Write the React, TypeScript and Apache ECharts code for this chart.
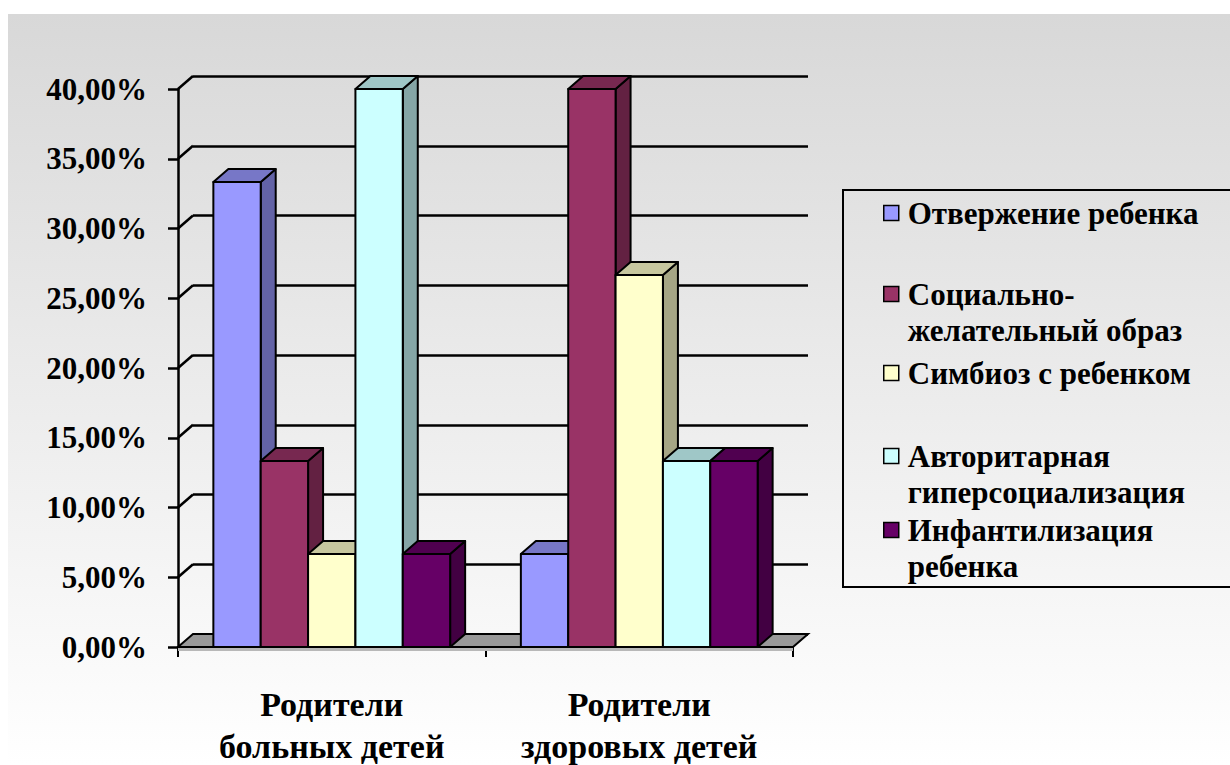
import React, { useEffect, useRef } from "react";
import * as echarts from "echarts";

// Categories on the x axis
const categories = ["Родители\nбольных детей", "Родители\nздоровых детей"];

// Series (legend) names
const seriesNames = [
  "Отвержение ребенка",
  "Социально-\nжелательный образ",
  "Симбиоз с ребенком",
  "Авторитарная\nгиперсоциализация",
  "Инфантилизация\nребенка",
];

// Percentages per category, one array per series
const rejection = [33.33, 6.67];
const socialImage = [13.33, 40.0];
const symbiosis = [6.67, 26.67];
const authoritarian = [40.0, 13.33];
const infantilization = [6.67, 13.33];

const seriesValues = [rejection, socialImage, symbiosis, authoritarian, infantilization];

// Value-axis ticks (percent)
const yTicks = [0, 5, 10, 15, 20, 25, 30, 35, 40];

const frontColors = ["#9999FF", "#993366", "#FFFFCC", "#CCFFFF", "#660066"];

// Vertical centre of each legend marker
const legendMarkerCenters = [213, 294, 373, 456, 530];

const FONT = "Liberation Serif, DejaVu Serif, serif";
const DX = 15; // pseudo-3D depth offset (x)
const DY = 13; // pseudo-3D depth offset (y)
const BAR_FRACTION = 0.154; // bar width as a share of the category band
const LEGEND_LINE = 36;

const FRONT_GRID = { left: 178, top: 89, width: 615, height: 558 };

function shade(hex: string, k: number): string {
  const n = parseInt(hex.slice(1), 16);
  const r = Math.round(((n >> 16) & 255) * k);
  const g = Math.round(((n >> 8) & 255) * k);
  const b = Math.round((n & 255) * k);
  return `rgb(${r},${g},${b})`;
}

function makeBarRenderer(slot: number, color: string) {
  const topColor = shade(color, 0.78);
  const sideColor = shade(color, 0.65);
  return (params: any, api: any) => {
    const cat = api.value(0);
    const val = api.value(1);
    const base = api.coord([cat, 0]);
    const top = api.coord([cat, val]);
    const band = api.size([1, 0])[0];
    const w = band * BAR_FRACTION;
    const x0 = base[0] - (seriesNames.length / 2) * w + slot * w;
    const x1 = x0 + w;
    const yb = base[1];
    const yt = top[1];
    const stroke = { stroke: "#000", lineWidth: 2, lineJoin: "round" };
    return {
      type: "group",
      children: [
        {
          type: "polygon",
          shape: { points: [[x1, yt], [x1 + DX, yt - DY], [x1 + DX, yb - DY], [x1, yb]] },
          style: { fill: sideColor, ...stroke },
        },
        {
          type: "polygon",
          shape: { points: [[x0, yt], [x0 + DX, yt - DY], [x1 + DX, yt - DY], [x1, yt]] },
          style: { fill: topColor, ...stroke },
        },
        {
          type: "rect",
          shape: { x: x0, y: yt, width: w, height: yb - yt },
          style: { fill: color, ...stroke },
        },
      ],
    };
  };
}

// Floor and the short diagonals joining the front axis to the back wall
function renderFrame(params: any, api: any) {
  const cs = params.coordSys;
  const v = api.value(1);
  const y = api.coord([0, v])[1];
  const x0 = cs.x;
  const x1 = cs.x + cs.width;
  if (v === 0) {
    return {
      type: "group",
      children: [
        { type: "rect", shape: { x: x0, y: y + 1, width: cs.width, height: 3 }, style: { fill: "#b8b8b8" } },
        {
          type: "polygon",
          shape: { points: [[x0, y], [x1, y], [x1 + DX, y - DY], [x0 + DX, y - DY]] },
          style: { fill: "#999999", stroke: "#000", lineWidth: 2 },
        },
      ],
    };
  }
  return {
    type: "line",
    shape: { x1: x0, y1: y, x2: x0 + DX, y2: y - DY },
    style: { stroke: "#000", lineWidth: 2.5 },
  };
}

export default function App() {
  const ref = useRef<HTMLDivElement>(null);

  useEffect(() => {
    document.body.style.margin = "0";
    document.body.style.overflow = "hidden";
    if (!ref.current) return;
    const chart = echarts.init(ref.current, undefined, { renderer: "svg" });

    // One legend block per entry so every entry sits in its own slot;
    // a leading blank line keeps the first line of two-line names level with the marker.
    const legends = seriesNames.map((name, i) => {
      const lines = name.split("\n").length;
      const c = legendMarkerCenters[i];
      const shownLines = lines === 1 ? 1 : lines + 1;
      return {
        data: [name],
        left: 883,
        top: c - (shownLines * LEGEND_LINE) / 2,
        padding: 0,
        selectedMode: false,
        icon: "rect",
        itemWidth: 15,
        itemHeight: 15,
        itemStyle: { borderColor: "#000", borderWidth: 1.5 },
        formatter: (n: string) => (lines === 1 ? n : " \n" + n),
        textStyle: {
          fontFamily: FONT,
          fontWeight: "bold",
          fontSize: 31,
          color: "#000",
          lineHeight: LEGEND_LINE,
          padding: [0, 0, 0, 4],
        },
      };
    });

    const option: any = {
      animation: false,
      textStyle: { fontFamily: FONT },
      graphic: [
        {
          type: "rect",
          z: -10,
          shape: { x: 8, y: 14, width: 1222, height: 751 },
          style: {
            fill: new echarts.graphic.LinearGradient(0, 0, 0, 1, [
              { offset: 0, color: "#d8d8d8" },
              { offset: 1, color: "#ffffff" },
            ]),
          },
        },
        {
          type: "rect",
          z: 10,
          shape: { x: 843, y: 190, width: 420, height: 397 },
          style: { fill: "none", stroke: "#000", lineWidth: 2 },
        },
      ],
      legend: legends,
      grid: [
        { ...FRONT_GRID, containLabel: false, outerBoundsMode: "none" },
        {
          left: FRONT_GRID.left + DX,
          top: FRONT_GRID.top - DY,
          width: FRONT_GRID.width,
          height: FRONT_GRID.height,
          containLabel: false,
          outerBoundsMode: "none",
        },
      ],
      xAxis: [
        {
          type: "category",
          gridIndex: 0,
          data: categories,
          boundaryGap: true,
          axisLine: { show: true, lineStyle: { color: "#000", width: 2 } },
          axisTick: { show: true, length: 10, lineStyle: { color: "#000", width: 2 } },
          axisLabel: {
            interval: 0,
            margin: 36,
            color: "#000",
            fontFamily: FONT,
            fontWeight: "bold",
            fontSize: 34,
            lineHeight: 42,
          },
          splitLine: { show: false },
        },
        {
          type: "category",
          gridIndex: 1,
          data: categories,
          show: false,
        },
      ],
      yAxis: [
        {
          type: "value",
          gridIndex: 0,
          min: yTicks[0],
          max: yTicks[yTicks.length - 1],
          interval: yTicks[1] - yTicks[0],
          axisLine: { show: true, lineStyle: { color: "#000", width: 2.5 } },
          axisTick: { show: true, length: 10, lineStyle: { color: "#000", width: 2.5 } },
          axisLabel: {
            margin: 31,
            color: "#000",
            fontFamily: FONT,
            fontWeight: "bold",
            fontSize: 31,
            formatter: (v: number) => v.toFixed(2).replace(".", ",") + "%",
          },
          splitLine: { show: false },
        },
        {
          type: "value",
          gridIndex: 1,
          min: yTicks[0],
          max: yTicks[yTicks.length - 1],
          interval: yTicks[1] - yTicks[0],
          axisLine: { show: false },
          axisTick: { show: false },
          axisLabel: { show: false },
          splitLine: { show: true, lineStyle: { color: "#000", width: 2.5 } },
        },
      ],
      series: [
        {
          type: "custom",
          name: "frame",
          xAxisIndex: 0,
          yAxisIndex: 0,
          z: 1,
          silent: true,
          data: yTicks.map((v) => [0, v]),
          encode: { x: 0, y: 1 },
          renderItem: renderFrame,
        },
        ...seriesNames.map((name, i) => ({
          type: "custom",
          name,
          xAxisIndex: 0,
          yAxisIndex: 0,
          z: 2,
          itemStyle: { color: frontColors[i] },
          data: categories.map((_, j) => [j, seriesValues[i][j]]),
          encode: { x: 0, y: 1 },
          renderItem: makeBarRenderer(i, frontColors[i]),
        })),
      ],
    };

    chart.setOption(option);
    return () => chart.dispose();
  }, []);

  return <div ref={ref} style={{ width: 1230, height: 765 }} />;
}
